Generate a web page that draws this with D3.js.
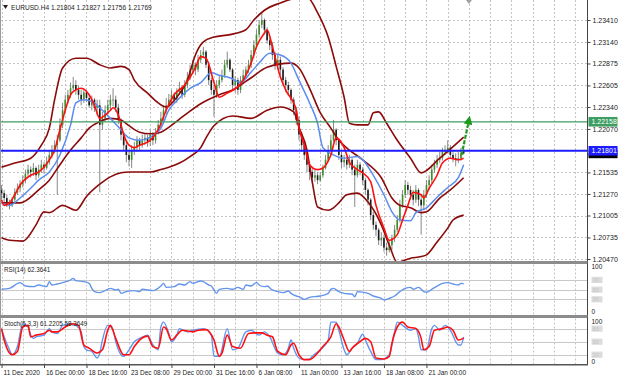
<!DOCTYPE html>
<html><head><meta charset="utf-8">
<script src="https://cdn.jsdelivr.net/npm/d3@7"></script>
<style>body{margin:0;background:#fff;overflow:hidden}svg{display:block;font-family:"Liberation Sans",Arial,sans-serif}</style>
</head><body><svg id="c" width="620" height="380"></svg>
<script>
// ---------- DATA ----------
const symbolName = "EURUSD.H4";
const lastQuote = ["1.21804", "1.21827", "1.21756", "1.21769"];
const closes = [1.2128,1.2122,1.2116,1.2113,1.2120,1.2129,1.2134,1.2139,1.2144,1.2152,
1.2157,1.2154,1.2159,1.2150,1.2157,1.2163,1.2159,1.2166,1.2175,1.2181,
1.2187,1.2193,1.2212,1.2230,1.2243,1.2249,1.2257,1.2261,1.2255,1.2249,
1.2243,1.2252,1.2245,1.2236,1.2243,1.2233,1.2236,1.2212,1.2220,1.2230,
1.2236,1.2243,1.2243,1.2233,1.2218,1.2200,1.2187,1.2175,1.2169,1.2181,
1.2184,1.2193,1.2187,1.2193,1.2196,1.2191,1.2200,1.2193,1.2203,1.2212,
1.2220,1.2230,1.2236,1.2243,1.2249,1.2243,1.2252,1.2257,1.2249,1.2261,
1.2270,1.2280,1.2286,1.2280,1.2292,1.2298,1.2302,1.2286,1.2267,1.2255,
1.2249,1.2261,1.2267,1.2273,1.2286,1.2292,1.2280,1.2261,1.2267,1.2255,
1.2267,1.2273,1.2280,1.2286,1.2298,1.2310,1.2323,1.2335,1.2341,1.2329,
1.2316,1.2310,1.2298,1.2286,1.2292,1.2280,1.2267,1.2261,1.2255,1.2243,
1.2230,1.2218,1.2200,1.2187,1.2175,1.2163,1.2154,1.2147,1.2150,1.2144,
1.2150,1.2159,1.2169,1.2181,1.2193,1.2206,1.2193,1.2175,1.2166,1.2169,
1.2163,1.2169,1.2157,1.2150,1.2163,1.2157,1.2144,1.2132,1.2120,1.2101,
1.2089,1.2083,1.2070,1.2073,1.2061,1.2058,1.2064,1.2073,1.2083,1.2095,
1.2113,1.2126,1.2138,1.2132,1.2126,1.2120,1.2132,1.2120,1.2113,1.2126,
1.2138,1.2144,1.2157,1.2163,1.2169,1.2171,1.2179,1.2181,1.2184,1.2175,
1.2171,1.2169,1.2171,1.2177,1.21769];
const opens = [1.2132,1.2128,1.2122,1.2116,1.2113,1.2120,1.2129,1.2134,1.2139,1.2144,
1.2152,1.2157,1.2154,1.2159,1.2150,1.2157,1.2163,1.2159,1.2166,1.2175,
1.2181,1.2187,1.2193,1.2212,1.2230,1.2243,1.2249,1.2257,1.2261,1.2255,
1.2249,1.2243,1.2252,1.2245,1.2236,1.2243,1.2233,1.2236,1.2212,1.2220,
1.2230,1.2236,1.2243,1.2243,1.2233,1.2218,1.2200,1.2187,1.2175,1.2169,
1.2181,1.2184,1.2193,1.2187,1.2193,1.2196,1.2191,1.2200,1.2193,1.2203,
1.2212,1.2220,1.2230,1.2236,1.2243,1.2249,1.2243,1.2252,1.2257,1.2249,
1.2261,1.2270,1.2280,1.2286,1.2280,1.2292,1.2298,1.2302,1.2286,1.2267,
1.2255,1.2249,1.2261,1.2267,1.2273,1.2286,1.2292,1.2280,1.2261,1.2267,
1.2255,1.2267,1.2273,1.2280,1.2286,1.2298,1.2310,1.2323,1.2335,1.2341,
1.2329,1.2316,1.2310,1.2298,1.2286,1.2292,1.2280,1.2267,1.2261,1.2255,
1.2243,1.2230,1.2218,1.2200,1.2187,1.2175,1.2163,1.2154,1.2147,1.2150,
1.2144,1.2150,1.2159,1.2169,1.2181,1.2193,1.2206,1.2193,1.2175,1.2166,
1.2169,1.2163,1.2169,1.2157,1.2150,1.2163,1.2157,1.2144,1.2132,1.2120,
1.2101,1.2089,1.2083,1.2070,1.2073,1.2061,1.2058,1.2064,1.2073,1.2083,
1.2095,1.2113,1.2126,1.2138,1.2132,1.2126,1.2120,1.2132,1.2120,1.2113,
1.2126,1.2138,1.2144,1.2157,1.2163,1.2169,1.2171,1.2179,1.2181,1.2184,
1.2175,1.2171,1.2169,1.2171,1.21804];
const highs = [1.2138,1.2132,1.2126,1.2120,1.2123,1.2134,1.2140,1.2144,1.2150,1.2157,
1.2163,1.2161,1.2165,1.2161,1.2163,1.2169,1.2166,1.2173,1.2181,1.2187,
1.2193,1.2200,1.2220,1.2239,1.2249,1.2255,1.2264,1.2271,1.2267,1.2260,
1.2255,1.2257,1.2255,1.2249,1.2248,1.2245,1.2243,1.2243,1.2228,1.2236,
1.2243,1.2249,1.2257,1.2248,1.2238,1.2220,1.2203,1.2191,1.2181,1.2187,
1.2191,1.2198,1.2196,1.2200,1.2202,1.2200,1.2206,1.2203,1.2208,1.2218,
1.2228,1.2236,1.2245,1.2250,1.2255,1.2252,1.2257,1.2265,1.2261,1.2267,
1.2277,1.2286,1.2292,1.2289,1.2298,1.2304,1.2308,1.2304,1.2289,1.2270,
1.2261,1.2267,1.2273,1.2280,1.2292,1.2302,1.2294,1.2282,1.2272,1.2270,
1.2272,1.2280,1.2284,1.2292,1.2304,1.2316,1.2329,1.2341,1.2350,1.2343,
1.2332,1.2321,1.2314,1.2302,1.2298,1.2296,1.2283,1.2271,1.2265,1.2257,
1.2246,1.2234,1.2222,1.2203,1.2191,1.2179,1.2166,1.2159,1.2157,1.2154,
1.2154,1.2163,1.2175,1.2187,1.2200,1.2218,1.2208,1.2196,1.2179,1.2175,
1.2173,1.2175,1.2171,1.2163,1.2169,1.2166,1.2160,1.2147,1.2134,1.2122,
1.2105,1.2093,1.2085,1.2080,1.2077,1.2067,1.2070,1.2077,1.2089,1.2101,
1.2120,1.2132,1.2144,1.2142,1.2137,1.2132,1.2138,1.2134,1.2126,1.2132,
1.2144,1.2150,1.2163,1.2169,1.2175,1.2179,1.2184,1.2187,1.2193,1.2187,
1.2181,1.2177,1.2179,1.2184,1.21827];
const lows = [1.2120,1.2117,1.2111,1.2108,1.2111,1.2116,1.2126,1.2129,1.2135,1.2140,
1.2148,1.2147,1.2149,1.2144,1.2147,1.2153,1.2152,1.2157,1.2163,1.2171,
1.2177,1.2126,1.2191,1.2208,1.2227,1.2238,1.2245,1.2252,1.2249,1.2243,
1.2236,1.2239,1.2240,1.2233,1.2230,1.2228,1.2224,1.2129,1.2206,1.2216,
1.2224,1.2230,1.2235,1.2228,1.2213,1.2193,1.2181,1.2166,1.2161,1.2159,
1.2175,1.2179,1.2181,1.2184,1.2187,1.2185,1.2186,1.2187,1.2189,1.2200,
1.2208,1.2217,1.2225,1.2233,1.2239,1.2238,1.2239,1.2249,1.2244,1.2246,
1.2257,1.2267,1.2276,1.2273,1.2277,1.2288,1.2294,1.2282,1.2261,1.2249,
1.2222,1.2245,1.2257,1.2264,1.2270,1.2282,1.2277,1.2255,1.2252,1.2249,
1.2251,1.2262,1.2270,1.2276,1.2282,1.2294,1.2307,1.2319,1.2331,1.2323,
1.2312,1.2304,1.2292,1.2280,1.2280,1.2273,1.2261,1.2252,1.2248,1.2238,
1.2224,1.2212,1.2193,1.2179,1.2169,1.2154,1.2144,1.2140,1.2142,1.2139,
1.2142,1.2147,1.2157,1.2166,1.2179,1.2191,1.2187,1.2169,1.2159,1.2160,
1.2157,1.2159,1.2150,1.2111,1.2147,1.2150,1.2138,1.2126,1.2113,1.2095,
1.2083,1.2075,1.2064,1.2063,1.2056,1.2051,1.2055,1.2058,1.2068,1.2080,
1.2092,1.2110,1.2122,1.2126,1.2120,1.2113,1.2116,1.2112,1.2077,1.2107,
1.2122,1.2132,1.2140,1.2153,1.2159,1.2165,1.2168,1.2175,1.2177,1.2171,
1.2166,1.2161,1.2165,1.2168,1.21756];

// indicator lines: [bar index, value]
const maFast = [[0,1.2120],[1,1.2113],[3,1.2116],[5,1.2126],[7,1.2138],[11,1.2150],[14,1.2154],[18,1.2169],[20,1.2181],[22,1.2206],[24,1.2230],[26,1.2249],[28,1.2255],[30,1.2257],[33,1.2249],[35,1.2236],[37,1.2220],[39,1.2224],[41,1.2230],[42,1.2233],[44,1.2224],[46,1.2200],[48,1.2187],[50,1.2184],[52,1.2187],[56,1.2193],[59,1.2206],[62,1.2230],[65,1.2249],[69,1.2261],[73,1.2282],[75,1.2296],[77,1.2294],[80,1.2264],[82,1.2246],[85,1.2251],[89,1.2259],[91,1.2267],[94,1.2288],[96,1.2308],[99,1.2325],[100,1.2329],[102,1.2308],[105,1.2271],[107,1.2255],[111,1.2230],[112,1.2209],[114,1.2187],[116,1.2163],[119,1.2157],[121,1.2159],[124,1.2175],[126,1.2196],[129,1.2184],[131,1.2166],[134,1.2157],[136,1.2153],[139,1.2142],[141,1.2113],[144,1.2085],[146,1.2070],[149,1.2077],[151,1.2095],[153,1.2113],[155,1.2129],[158,1.2126],[159,1.2122],[161,1.2134],[164,1.2150],[166,1.2165],[169,1.2171],[172,1.2169],[174,1.2171]];
const maSlow = [[0,1.2116],[3,1.2113],[7,1.2122],[11,1.2134],[14,1.2144],[18,1.2154],[22,1.2175],[26,1.2212],[28,1.2239],[31,1.2243],[35,1.2239],[37,1.2233],[41,1.2220],[45,1.2206],[48,1.2196],[52,1.2193],[56,1.2197],[60,1.2208],[63,1.2230],[67,1.2245],[71,1.2257],[75,1.2264],[79,1.2276],[82,1.2273],[86,1.2270],[90,1.2264],[94,1.2277],[97,1.2288],[101,1.2300],[105,1.2298],[109,1.2288],[112,1.2267],[116,1.2239],[119,1.2214],[121,1.2184],[125,1.2175],[129,1.2171],[134,1.2173],[136,1.2169],[140,1.2150],[144,1.2126],[147,1.2105],[150,1.2095],[154,1.2094],[156,1.2104],[160,1.2110],[164,1.2123],[168,1.2135],[172,1.2147],[174,1.2163]];
const bbMiddle = [[0,1.2116],[7,1.2116],[14,1.2132],[18,1.2144],[22,1.2163],[26,1.2181],[30,1.2196],[33,1.2208],[37,1.2216],[41,1.2220],[45,1.2218],[48,1.2211],[52,1.2203],[56,1.2201],[60,1.2203],[63,1.2209],[67,1.2219],[71,1.2229],[75,1.2238],[82,1.2249],[87,1.2255],[94,1.2270],[100,1.2283],[109,1.2288],[112,1.2282],[116,1.2257],[120,1.2227],[124,1.2208],[127,1.2193],[131,1.2181],[136,1.2169],[143,1.2147],[147,1.2122],[150,1.2113],[154,1.2110],[158,1.2104],[160,1.2105],[165,1.2122],[169,1.2132],[174,1.2147]];
const bbUpper = [[0,1.2160],[5,1.2165],[11,1.2171],[15,1.2187],[18,1.2208],[20,1.2243],[23,1.2282],[28,1.2294],[32,1.2294],[37,1.2286],[41,1.2282],[45,1.2284],[48,1.2280],[50,1.2267],[55,1.2251],[59,1.2239],[62,1.2234],[66,1.2246],[70,1.2267],[73,1.2298],[76,1.2314],[80,1.2320],[86,1.2323],[92,1.2329],[95,1.2341],[99,1.2353],[105,1.2362],[111,1.2368],[115,1.2369],[119,1.2350],[123,1.2320],[126,1.2284],[129,1.2246],[131,1.2214],[134,1.2212],[138,1.2212],[140,1.2227],[142,1.2228],[145,1.2214],[149,1.2193],[154,1.2171],[158,1.2153],[165,1.2171],[174,1.2197]];
const bbLower = [[0,1.2073],[3,1.2070],[8,1.2069],[13,1.2089],[16,1.2105],[18,1.2104],[23,1.2113],[28,1.2107],[32,1.2124],[37,1.2139],[41,1.2148],[45,1.2153],[48,1.2154],[52,1.2154],[56,1.2154],[60,1.2157],[63,1.2160],[67,1.2165],[71,1.2173],[75,1.2184],[77,1.2196],[80,1.2211],[87,1.2223],[94,1.2220],[100,1.2230],[105,1.2234],[110,1.2228],[112,1.2209],[115,1.2181],[117,1.2142],[119,1.2111],[123,1.2107],[125,1.2110],[127,1.2116],[130,1.2126],[134,1.2128],[138,1.2117],[143,1.2089],[146,1.2064],[149,1.2043],[154,1.2048],[158,1.2050],[160,1.2052],[164,1.2068],[168,1.2085],[170,1.2095],[174,1.2101]];
const rsi = [[0,50.9],[3,52.9],[7,64.6],[9,57.7],[12,56.4],[14,59.8],[17,56.4],[18,66.7],[19,59.8],[21,61.9],[23,64.6],[26,70.1],[27,73.5],[28,68.7],[31,66.7],[33,63.2],[34,52.9],[35,46.1],[37,44],[40,50.9],[41,52.9],[43,49.5],[44,50.9],[45,42.6],[47,46.1],[50,48.1],[52,46.1],[53,50.9],[57,48.1],[60,57.7],[61,63.2],[62,55],[65,56.4],[67,61.9],[69,59.8],[71,66.7],[72,63.2],[75,68],[76,66.7],[78,59.8],[79,57.7],[80,49.5],[81,42.6],[82,50.9],[85,52.9],[87,50.9],[89,55],[91,50.9],[92,59.8],[94,57.7],[96,64.6],[97,59.8],[99,56.4],[100,57.7],[102,49.5],[104,46.1],[106,44],[108,47.4],[109,42.6],[111,37.1],[112,35.7],[114,30.2],[116,34.4],[120,37.1],[123,42.6],[124,50.9],[125,52.9],[127,46.1],[129,42.6],[132,41.2],[133,35.7],[134,46.1],[138,42.6],[140,37.1],[143,32.3],[144,28.9],[146,32.3],[148,37.1],[150,46.1],[152,52.9],[154,55],[155,50.9],[157,55],[159,46.1],[160,44.7],[162,50.9],[164,57.7],[166,63.2],[168,64.6],[170,61.9],[172,59.8],[173,63.2],[174,62.36]];
const stochMain = [[0,80.2],[1,61.4],[3,31.5],[4,20.2],[6,38.9],[8,91.4],[10,83.9],[11,65.2],[12,57.7],[13,61.4],[16,65.2],[18,80.2],[19,72.7],[21,68.9],[23,87.6],[26,91.4],[28,87.6],[30,72.7],[31,38.9],[32,31.5],[34,27.7],[36,12.7],[37,24],[38,53.9],[40,87.6],[42,76.4],[43,50.2],[45,20.2],[46,16.5],[48,31.5],[50,50.2],[52,57.7],[55,65.2],[57,42.7],[59,31.5],[60,83.9],[61,95.1],[63,68.9],[64,50.2],[66,65.2],[67,80.2],[70,72.7],[72,76.4],[76,80.2],[79,65.2],[80,16.5],[82,16.5],[85,80],[87,31.5],[89,35.2],[92,72.7],[94,76.4],[97,65.2],[99,72.7],[101,61.4],[104,24],[106,20.2],[108,35.2],[109,53.9],[110,35.2],[112,12.7],[114,9],[116,10],[117,16.5],[120,31.5],[123,53.9],[124,95.1],[126,95.1],[127,76.4],[129,31.5],[130,20.2],[132,35.2],[134,46.4],[136,67.4],[137,53.9],[139,27.7],[141,9],[143,9],[146,20.2],[148,72.7],[149,95.1],[151,87.6],[154,76.4],[156,80.2],[157,61.4],[158,31.5],[160,31.5],[162,80.2],[163,87.6],[165,76.4],[167,87.6],[169,76.4],[172,42.7],[173,42.7],[174,61.22]];
const stochSignal = [[0,80.2],[1,53.9],[4,20.2],[6,27.7],[8,83.9],[10,87.6],[11,61.4],[13,65.2],[16,68.9],[18,76.4],[19,72.7],[21,72.7],[24,83.9],[27,91.4],[29,87.6],[31,42.7],[33,35.2],[36,24],[38,31.5],[40,76.4],[41,87.6],[43,57.7],[46,20.2],[48,20.2],[50,38.9],[52,53.9],[55,62.9],[57,38.9],[59,35.2],[61,83.9],[62,80.2],[64,53.9],[66,65.2],[68,76.4],[72,72.7],[74,76.4],[77,77.9],[80,53.9],[82,16.5],[83,24],[85,65.2],[87,38.9],[90,35.2],[93,68.9],[95,70.4],[98,70.4],[100,65.2],[102,61.4],[104,27.7],[107,20.2],[109,42.7],[110,46.4],[112,20.2],[114,9],[116,9],[119,24],[121,38.9],[124,61.4],[126,91.4],[127,83.9],[129,53.9],[131,27.7],[132,35.2],[135,50.2],[137,57.7],[139,50.2],[141,12.7],[144,10.5],[146,16.5],[147,46.4],[149,83.9],[151,95.1],[153,83.9],[156,80.2],[158,57.7],[159,31.5],[161,38.9],[163,76.4],[166,80.2],[168,83.9],[170,76.4],[172,53.9],[174,58.36]];

const priceTicks = [1.23410,1.23140,1.22875,1.22605,1.22340,1.22070,1.21805,1.21535,1.21270,1.21005,1.20735,1.20470];
const timeLabels = ["11 Dec 2020","16 Dec 00:00","18 Dec 16:00","23 Dec 08:00","29 Dec 00:00","31 Dec 16:00","6 Jan 08:00","11 Jan 00:00","13 Jan 16:00","18 Jan 08:00","21 Jan 00:00"];
const timeLabelBars = [0,16,32,48,64,80,96,112,128,144,160];
const levelGreen = 1.22158, levelBlue = 1.21801;
const rsiLevels = [70,50,30], stochLevels = [80,50,20];
const arrowFrom = [174, 1.2175], arrowTo = [176, 1.2218];

// ---------- DRAW ----------
const svg = d3.select("#c");
const W = 587.5;
const FS = 6.5;
const x = d3.scaleLinear().domain([0, 220]).range([1.5, 1.5 + 220 * 2.656]);
const y = d3.scaleLinear().domain([1.20470, 1.23410]).range([259, 20]);
const yR = d3.scaleLinear().domain([0, 100]).range([314, 265.5]);
const yS = d3.scaleLinear().domain([0, 100]).range([363.5, 320]);
const panels = [{id:"pm",y0:0,y1:261},{id:"pr",y0:264.5,y1:315},{id:"ps",y0:318.5,y1:364}];
const defs = svg.append("defs");
panels.forEach(p => defs.append("clipPath").attr("id", p.id).append("rect").attr("x",1).attr("y",p.y0).attr("width",W-1).attr("height",p.y1-p.y0));

const gridBars = d3.range(0, 221, 8);
const dotted = "#c4c4c4";
function vgrid(p){
  svg.append("g").selectAll("line").data(gridBars).join("line")
    .attr("x1",d=>Math.round(x(d))+0.5).attr("x2",d=>Math.round(x(d))+0.5)
    .attr("y1",p.y0).attr("y2",p.y1).attr("stroke",dotted).attr("stroke-dasharray","2,2");
}
panels.forEach(vgrid);
svg.append("g").selectAll("line").data(priceTicks).join("line")
  .attr("x1",1).attr("x2",W).attr("y1",d=>Math.round(y(d))+0.5).attr("y2",d=>Math.round(y(d))+0.5)
  .attr("stroke",dotted).attr("stroke-dasharray","2,2");
svg.append("g").selectAll("line").data(rsiLevels).join("line")
  .attr("x1",1).attr("x2",W).attr("y1",d=>Math.round(yR(d))+0.5).attr("y2",d=>Math.round(yR(d))+0.5)
  .attr("stroke","#c8c8c8");
svg.append("g").selectAll("line").data(stochLevels).join("line")
  .attr("x1",1).attr("x2",W).attr("y1",d=>Math.round(yS(d))+0.5).attr("y2",d=>Math.round(yS(d))+0.5)
  .attr("stroke","#c8c8c8");

// candles
const gm = svg.append("g").attr("clip-path","url(#pm)");
const bars = d3.range(closes.length);
gm.append("g").selectAll("line").data(bars).join("line")
  .attr("x1",i=>x(i)).attr("x2",i=>x(i))
  .attr("y1",i=>y(Math.max(highs[i],opens[i],closes[i])))
  .attr("y2",i=>y(Math.min(lows[i],opens[i],closes[i])))
  .attr("stroke","#7a7a7a").attr("stroke-width",0.9);
gm.append("g").selectAll("rect").data(bars).join("rect")
  .attr("x",i=>x(i)-0.8).attr("width",1.6)
  .attr("y",i=>y(Math.max(opens[i],closes[i])))
  .attr("height",i=>Math.max(0.8, y(Math.min(opens[i],closes[i]))-y(Math.max(opens[i],closes[i]))))
  .attr("fill",i=>closes[i]>=opens[i]?"#3f8f2a":"#1a1a1a");

const lineP = d3.line().x(d=>x(d[0])).y(d=>y(d[1])).curve(d3.curveMonotoneX);
[[bbUpper,"#8b0a0a",1.6],[bbLower,"#8b0a0a",1.6],[bbMiddle,"#8b0a0a",1.6],[maSlow,"#5b8def",1.5],[maFast,"#ff1010",1.6]]
  .forEach(([d,c,w]) => gm.append("path").attr("d",lineP(d)).attr("fill","none").attr("stroke",c).attr("stroke-width",w));

// horizontal levels
gm.append("line").attr("x1",1).attr("x2",W).attr("y1",y(levelGreen)).attr("y2",y(levelGreen)).attr("stroke","#3e9e62").attr("stroke-width",1.3);
gm.append("line").attr("x1",1).attr("x2",W).attr("y1",y(levelBlue)).attr("y2",y(levelBlue)).attr("stroke","#1c1cff").attr("stroke-width",2);

// arrow
defs.append("marker").attr("id","ah").attr("viewBox","0 0 10 10").attr("refX",5).attr("refY",5)
  .attr("markerWidth",4).attr("markerHeight",4).attr("orient","auto")
  .append("path").attr("d","M0,0L10,5L0,10z").attr("fill","#1e9a1e");
gm.append("line").attr("x1",x(arrowFrom[0])-2).attr("y1",y(arrowFrom[1])).attr("x2",x(arrowTo[0])).attr("y2",y(arrowTo[1]))
  .attr("stroke","#1e9a1e").attr("stroke-width",2.2).attr("stroke-dasharray","4,1.5").attr("marker-end","url(#ah)");
gm.append("path").attr("d",`M${x(176)-3},0L${x(176)+3},0L${x(176)},4z`).attr("fill","#a0a0a0");

// RSI
const gr = svg.append("g").attr("clip-path","url(#pr)");
gr.append("path").attr("d",d3.line().x(d=>x(d[0])).y(d=>yR(d[1])).curve(d3.curveMonotoneX)(rsi))
  .attr("fill","none").attr("stroke","#6495ed").attr("stroke-width",1.4);
// Stoch
const gs = svg.append("g").attr("clip-path","url(#ps)");
const lineS = d3.line().x(d=>x(d[0])).y(d=>yS(d[1])).curve(d3.curveMonotoneX);
gs.append("path").attr("d",lineS(stochMain)).attr("fill","none").attr("stroke","#6495ed").attr("stroke-width",1.4);
gs.append("path").attr("d",lineS(stochSignal)).attr("fill","none").attr("stroke","#ff1010").attr("stroke-width",1.6);

// frames and separators
svg.append("line").attr("x1",0.5).attr("x2",0.5).attr("y1",0).attr("y2",364).attr("stroke","#999");
svg.append("line").attr("x1",W).attr("x2",W).attr("y1",0).attr("y2",365).attr("stroke","#444");
svg.append("rect").attr("x",0).attr("y",261).attr("width",W).attr("height",3).attr("fill","#8c8c8c");
svg.append("rect").attr("x",0).attr("y",315).attr("width",W).attr("height",3).attr("fill","#8c8c8c");
svg.append("rect").attr("x",0).attr("y",364).attr("width",W+0.5).attr("height",1.5).attr("fill","#555");

// price axis
const ax = svg.append("g").attr("transform",`translate(${W},0)`)
  .call(d3.axisRight(y).tickValues(priceTicks).tickFormat(d3.format(".5f")).tickSize(3).tickPadding(2));
ax.select(".domain").remove();
ax.selectAll("line").attr("stroke","#444");
ax.selectAll("text").attr("font-size",7).attr("fill","#222").attr("font-family","Liberation Sans, Arial, sans-serif");

function priceTag(v, fill, txt){
  const g = svg.append("g").attr("transform",`translate(${W+1},${y(v)})`);
  g.append("rect").attr("x",0).attr("y",-4.8).attr("width",29).attr("height",9.6).attr("fill",fill);
  g.append("text").attr("x",3).attr("y",0).attr("dy","0.35em").attr("font-size",7).attr("fill","#fff").text(txt);
}
// current-price tag mostly hidden behind the blue level tag
svg.append("rect").attr("x",W+1).attr("y",y(levelBlue)+2).attr("width",29).attr("height",y(+lastQuote[3])+4.8-y(levelBlue)-2).attr("fill","#000");
priceTag(levelBlue, "#1c1cff", d3.format(".5f")(levelBlue));
priceTag(levelGreen, "#3e9e62", d3.format(".5f")(levelGreen));

// indicator scales
function subAxis(sc, levels, zeroY){
  const g = svg.append("g").attr("transform",`translate(${W},0)`);
  g.append("text").attr("x",4).attr("y",sc(100)+3.5).attr("font-size",FS).attr("fill","#222").text("100");
  g.append("text").attr("x",4).attr("y",zeroY).attr("font-size",FS).attr("fill","#222").text("0");
  levels.forEach(l => {
    g.append("rect").attr("x",4).attr("y",sc(l)-3.2).attr("width",11).attr("height",6.2).attr("fill","#dcdcdc");
    g.append("text").attr("x",5).attr("y",sc(l)+2).attr("font-size",5.5).attr("fill","#c6c6c6").text(l);
  });
}
subAxis(yR, rsiLevels, 314);
subAxis(yS, stochLevels, 364);

// time axis
const tx = svg.append("g").attr("transform","translate(0,365)")
  .call(d3.axisBottom(x).tickValues(timeLabelBars).tickFormat((d,i)=>timeLabels[i]).tickSize(3).tickPadding(2));
tx.select(".domain").remove();
tx.selectAll("line").attr("stroke","#444");
tx.selectAll("text").attr("text-anchor","start").attr("dx",1.5).attr("font-size",FS).attr("fill","#222");

// titles
svg.append("path").attr("d","M3,5L8,5L5.5,9z").attr("fill","#222");
svg.append("text").attr("x",11).attr("y",10).attr("font-size",6.6).attr("fill","#222")
  .text(symbolName + "  " + lastQuote.join(" "));
svg.append("text").attr("x",4).attr("y",272).attr("font-size",6.3).attr("fill","#222").text("RSI(14) 62.3641");
svg.append("text").attr("x",4).attr("y",326).attr("font-size",6.3).attr("fill","#222").text("Stoch(5,3,3) 61.2205 58.3649");
</script></body></html>
